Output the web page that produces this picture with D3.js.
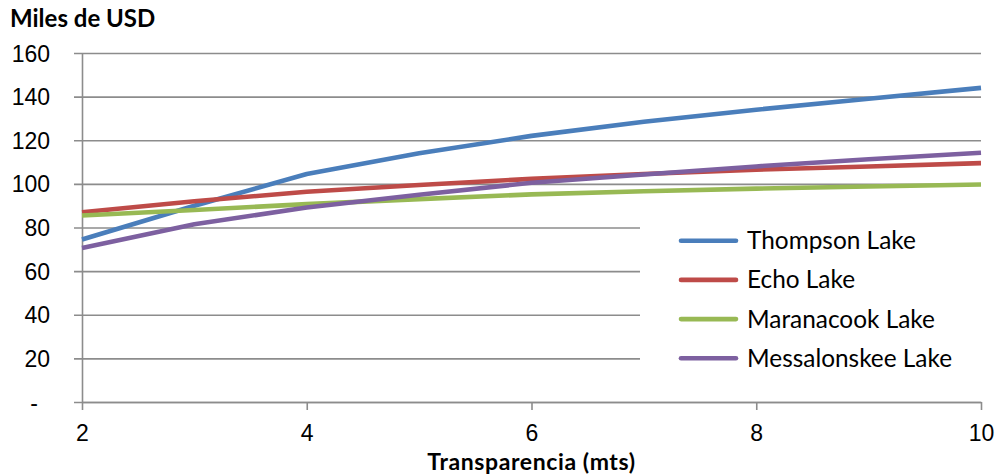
<!DOCTYPE html>
<html>
<head>
<meta charset="utf-8">
<script src="https://cdn.jsdelivr.net/npm/d3@7"></script>
<style>
  body { margin: 0; background: #fff; }
  svg { display: block; font-family: Lato, "Open Sans", sans-serif; }
</style>
</head>
<body>
<div id="chart"></div>
<script>
// --- DATA ---
const transparencia = [2, 3, 4, 5, 6, 7, 8, 9, 10];
const seriesNames = ["Thompson Lake", "Echo Lake", "Maranacook Lake", "Messalonskee Lake"];
const thompson = [74.5, 90, 104.5, 114, 122, 128.5, 134, 139, 144];
const echo = [87, 92, 96.4, 99.5, 102.3, 104.5, 106.5, 108, 109.5];
const maranacook = [85.5, 88, 90.7, 93, 95.2, 96.6, 97.8, 98.8, 99.7];
const messalonskee = [70.6, 81.5, 89.2, 95, 100.5, 104.3, 108, 111.3, 114.3];
const yTicks = [0, 20, 40, 60, 80, 100, 120, 140, 160];
const xTicks = [2, 4, 6, 8, 10];
const colors = ["#4a7ebb", "#be4b48", "#98b954", "#7d60a0"];

const seriesValues = [thompson, echo, maranacook, messalonskee];

// --- LAYOUT ---
const size = {width: 996, height: 474};
const margin = {top: 53, right: 15, bottom: 72, left: 82};
const width = size.width - margin.left - margin.right;
const height = size.height - margin.top - margin.bottom;
const gridColor = "#8c8c8c";

const svg = d3.select("#chart").append("svg")
    .attr("width", size.width)
    .attr("height", size.height);

const g = svg.append("g")
    .attr("transform", `translate(${margin.left},${margin.top})`);

const x = d3.scaleLinear().domain([2, 10]).range([0, width]);
const y = d3.scaleLinear().domain([0, 160]).range([height, 0]);

// Gridlines + y axis
const yAxis = g.append("g")
    .call(d3.axisLeft(y)
        .tickValues(yTicks)
        .tickSize(8)
        .tickSizeOuter(0)
        .tickFormat(d => d === 0 ? "-" : d));
yAxis.select(".domain").attr("stroke", gridColor).attr("stroke-width", 1.6);
yAxis.selectAll(".tick line")
    .attr("x1", -8)
    .attr("x2", width)
    .attr("stroke", gridColor)
    .attr("stroke-width", 1.6);
yAxis.selectAll(".tick text")
    .attr("x", d => d === 0 ? -44 : -32)
    .attr("dy", "0.35em")
    .attr("fill", "#000")
    .attr("font-size", 23);

// x axis
const xAxis = g.append("g")
    .attr("transform", `translate(0,${height})`)
    .call(d3.axisBottom(x)
        .tickValues(xTicks)
        .tickSize(8)
        .tickSizeOuter(0));
xAxis.select(".domain").attr("stroke", gridColor).attr("stroke-width", 1.6);
xAxis.selectAll(".tick line").attr("stroke", gridColor).attr("stroke-width", 1.6);
xAxis.selectAll(".tick text")
    .attr("y", 23)
    .attr("dy", "0.71em")
    .attr("fill", "#000")
    .attr("font-size", 23);

// Lines
const line = d3.line()
    .x((d, i) => x(transparencia[i]))
    .y(d => y(d));

g.selectAll(".serie")
    .data(seriesValues)
    .join("path")
    .attr("class", "serie")
    .attr("fill", "none")
    .attr("stroke", (d, i) => colors[i])
    .attr("stroke-width", 4.6)
    .attr("stroke-linejoin", "round")
    .attr("d", line);

// Legend
const legend = svg.append("g").attr("transform", "translate(640,218)");
legend.append("rect")
    .attr("width", 345)
    .attr("height", 162)
    .attr("fill", "#fff");

const legendItem = legend.selectAll(".legendItem")
    .data(seriesNames)
    .join("g")
    .attr("class", "legendItem")
    .attr("transform", (d, i) => `translate(0,${22.7 + i * 39.2})`);

legendItem.append("line")
    .attr("x1", 41).attr("x2", 96)
    .attr("stroke", (d, i) => colors[i])
    .attr("stroke-width", 4.6)
    .attr("stroke-linecap", "round");

legendItem.append("text")
    .attr("x", 107)
    .attr("dy", "0.35em")
    .attr("font-size", 24.4)
    .text(d => d);

// Titles
svg.append("text")
    .attr("x", 10)
    .attr("y", 27)
    .attr("font-size", 24)
    .attr("font-weight", "bold")
    .text("Miles de USD");

svg.append("text")
    .attr("x", margin.left + width / 2)
    .attr("y", 470)
    .attr("text-anchor", "middle")
    .attr("font-size", 23)
    .attr("font-weight", "bold")
    .attr("letter-spacing", 0.6)
    .text("Transparencia (mts)");
</script>
</body>
</html>
